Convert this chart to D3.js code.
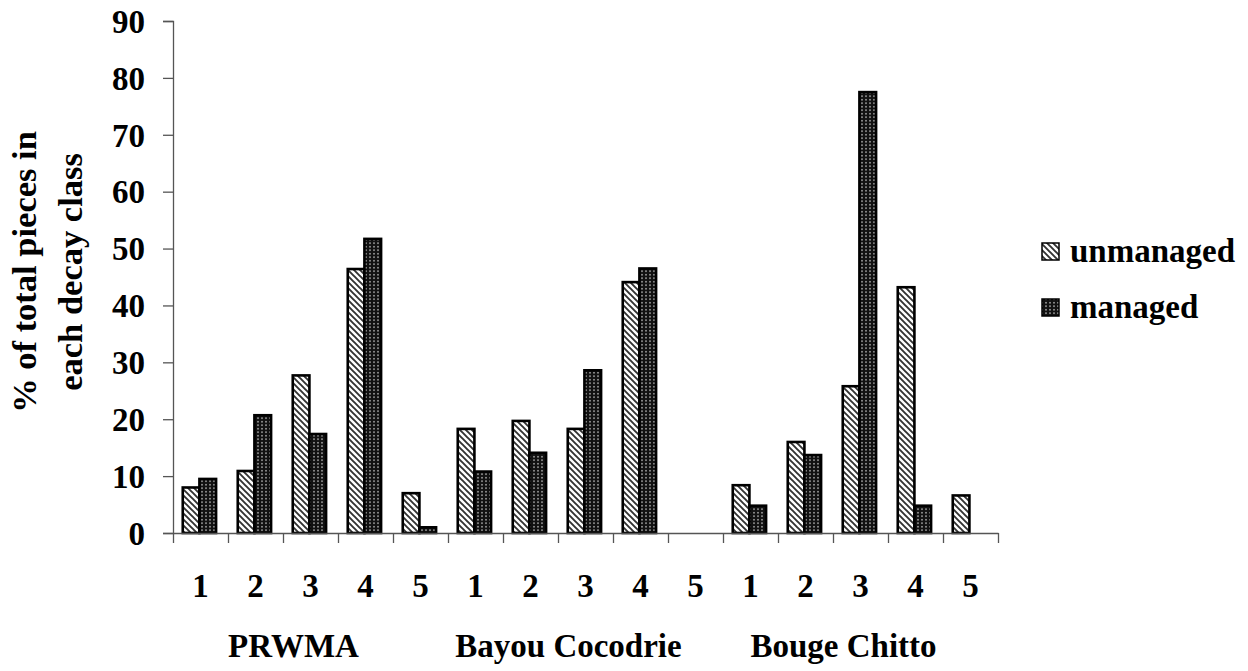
<!DOCTYPE html>
<html><head><meta charset="utf-8">
<script src="https://cdn.jsdelivr.net/npm/d3@7"></script>
<style>
html,body{margin:0;padding:0;background:#fff;}
text{font-family:"Liberation Serif","Times New Roman",serif;font-weight:bold;fill:#000;}
</style></head>
<body>
<svg id="chart" width="1248" height="671"></svg>
<script>
const groups = ["PRWMA", "Bayou Cocodrie", "Bouge Chitto"];
const decayClasses = ["1", "2", "3", "4", "5"];
const seriesNames = ["unmanaged", "managed"];
const unmanaged = [8.0, 10.9, 27.7, 46.4, 7.0,   18.3, 19.7, 18.3, 44.1, 0,   8.4, 16.0, 25.8, 43.2, 6.6];
const managed   = [9.5, 20.7, 17.4, 51.7, 1.0,   10.8, 14.1, 28.6, 46.5, 0,   4.8, 13.7, 77.5, 4.8, 0];
const yTicks = [0, 10, 20, 30, 40, 50, 60, 70, 80, 90];
const yTitle = ["% of total pieces in", "each decay class"];

const FS = 33;
const svg = d3.select("#chart");
const defs = svg.append("defs");

// diagonal stripe pattern (unmanaged)
const p1 = defs.append("pattern").attr("id", "stripe").attr("patternUnits", "userSpaceOnUse")
  .attr("width", 6).attr("height", 6);
p1.append("rect").attr("width", 6).attr("height", 6).attr("fill", "#fff");
p1.append("path").attr("d", "M-1,-1 L7,7 M-1,5 L1,7 M5,-1 L7,1")
  .attr("stroke", "#333").attr("stroke-width", 1.9);

// dotted dark pattern (managed)
const p2 = defs.append("pattern").attr("id", "dots").attr("patternUnits", "userSpaceOnUse")
  .attr("width", 4).attr("height", 3.5);
p2.append("rect").attr("width", 4).attr("height", 3.5).attr("fill", "#111");
p2.append("rect").attr("x", 1.2).attr("y", 1).attr("width", 1.6).attr("height", 1.4).attr("fill", "#bbb");

const fills = {unmanaged: "url(#stripe)", managed: "url(#dots)"};

const cats = [];
groups.forEach((g, gi) => decayClasses.forEach((d, di) => cats.push({g, d, i: gi * decayClasses.length + di})));

const x0 = d3.scaleBand().domain(cats.map(c => c.i)).range([173, 998]).padding(0);
const x1 = d3.scaleBand().domain(seriesNames).range([0, x0.bandwidth()]).paddingInner(0).paddingOuter(0.65).align(0.45);
const y = d3.scaleLinear().domain([0, 90]).range([533, 21]);

// bars
const data = {unmanaged, managed};
seriesNames.forEach(s => {
  svg.append("g").selectAll("rect")
    .data(cats.filter(c => data[s][c.i] > 0))
    .join("rect")
    .attr("x", c => x0(c.i) + x1(s))
    .attr("y", c => y(data[s][c.i]))
    .attr("width", x1.bandwidth())
    .attr("height", c => y(0) - y(data[s][c.i]))
    .attr("fill", fills[s])
    .attr("stroke", "#000").attr("stroke-width", 2.6);
});

// y axis
const yAxis = svg.append("g").attr("transform", "translate(173,0)")
  .call(d3.axisLeft(y).tickValues(yTicks).tickSize(10).tickPadding(18).tickFormat(d3.format("d")));
yAxis.select(".domain").attr("stroke", "#555").attr("stroke-width", 1.3);
yAxis.selectAll(".tick line").attr("stroke", "#555").attr("stroke-width", 1.3);
yAxis.selectAll(".tick text").attr("font-size", FS).attr("font-family", "Liberation Serif").attr("font-weight", "bold").attr("fill", "#000").attr("dy", "0.34em");

// x axis (category boundaries as ticks)
const xb = d3.scaleLinear().domain([0, cats.length]).range([173, 998]);
const xAxis = svg.append("g").attr("transform", "translate(0,533)")
  .call(d3.axisBottom(xb).tickValues(d3.range(0, cats.length + 1)).tickSize(10).tickSizeOuter(0).tickFormat(""));
xAxis.select(".domain").attr("stroke", "#555").attr("stroke-width", 1.3);
xAxis.selectAll(".tick line").attr("stroke", "#555").attr("stroke-width", 1.3);

// decay class labels
svg.append("g").selectAll("text").data(cats).join("text")
  .attr("x", c => x0(c.i) + x0.bandwidth() / 2)
  .attr("y", 597)
  .attr("text-anchor", "middle")
  .attr("font-size", FS)
  .text(c => c.d);

// group labels
svg.append("g").selectAll("text").data(groups).join("text")
  .attr("x", (g, gi) => (x0(gi * 5) + x0(gi * 5 + 4) + x0.bandwidth()) / 2 - 17)
  .attr("y", 657)
  .attr("text-anchor", "middle")
  .attr("font-size", FS)
  .text(g => g);

// y title
const yt = svg.append("text").attr("transform", "translate(0,272) rotate(-90)")
  .attr("text-anchor", "middle").attr("font-size", 34.5);
yt.selectAll("tspan").data(yTitle).join("tspan")
  .attr("x", 0).attr("y", (d, i) => 36 + i * 46).text(d => d);

// legend
const lg = svg.append("g");
seriesNames.forEach((s, i) => {
  const ly = 243 + i * 56;
  lg.append("rect").attr("x", 1042).attr("y", ly).attr("width", 17).attr("height", 17)
    .attr("fill", fills[s]).attr("stroke", "#000").attr("stroke-width", 1.5);
  lg.append("text").attr("x", 1070).attr("y", ly + 19).attr("font-size", FS).text(s);
});
</script>
</body></html>
